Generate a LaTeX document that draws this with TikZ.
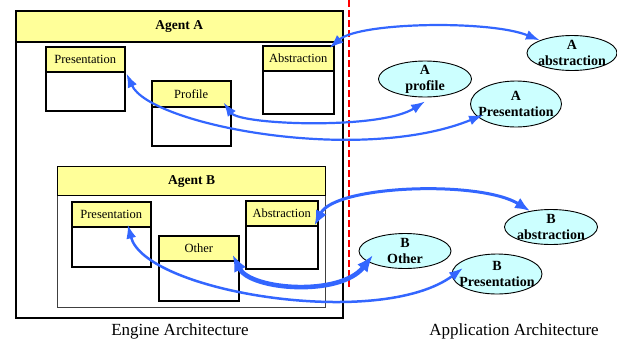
\documentclass[tikz,border=0pt]{standalone}
\usepackage{fontspec}
\setmainfont{Liberation Serif}
\usetikzlibrary{arrows.meta,shapes.geometric,calc}
\definecolor{hdryellow}{RGB}{255,255,153}
\definecolor{ellcyan}{RGB}{204,255,255}
\definecolor{linkblue}{RGB}{51,102,255}
\tikzset{
  panel/.style={draw=black, line width=1.6, fill=white, rectangle, inner sep=0, anchor=north west},
  subpanel/.style={draw=black!75, line width=1.3, fill=white, rectangle, inner sep=0, anchor=north west},
  titlebar/.style={draw=black, line width=1.6, fill=hdryellow, rectangle, inner sep=0, anchor=north west,
    font=\fontsize{13.5}{15}\selectfont\bfseries},
  partbox/.style={draw=black, line width=1.5, fill=white, rectangle, inner sep=0, anchor=north west},
  parthead/.style={draw=black, line width=1.5, fill=hdryellow, rectangle, inner sep=0, anchor=north west,
    font=\fontsize{12.5}{14}\selectfont},
  appnode/.style={draw=black, line width=0.9, fill=ellcyan, ellipse, inner sep=0},
  apptext/.style={font=\fontsize{14}{16}\selectfont\bfseries, align=center, inner sep=0},
  link/.style={draw=linkblue, line width=2.2,
    {Latex[length=14pt,width=10pt]}-{Latex[length=14pt,width=10pt]}},
  linkbold/.style={draw=linkblue, line width=3,
    {Latex[length=15pt,width=12pt]}-{Latex[length=15pt,width=12pt]}},
  linkheavy/.style={draw=linkblue, line width=4.6,
    {Latex[length=17pt,width=13pt]}-{Latex[length=17pt,width=13pt]}},
  caption/.style={font=\fontsize{17}{19}\selectfont, inner sep=0},
}
\begin{document}
\begin{tikzpicture}[x=1pt,y=-1pt]
\useasboundingbox (0,0) rectangle (617,343);

% boundary between engine and application side
\draw[red, line width=2, dash pattern=on 7pt off 3pt] (349,0) -- (349,287);

% Agent A container
\node[panel, minimum width=327, minimum height=307] (agentA) at (15,10) {};
\node[titlebar, minimum width=327, minimum height=31] (agentAH) at (15,10) {Agent A};

\node[partbox, minimum width=79, minimum height=64] (apres) at (45,46) {};
\node[parthead, minimum width=79, minimum height=25] (apresH) at (45,46) {Presentation};

\node[partbox, minimum width=79, minimum height=65] (prof) at (151,80) {};
\node[parthead, minimum width=79, minimum height=26] (profH) at (151,80) {Profile};

\node[partbox, minimum width=71, minimum height=68] (aabs) at (262,45) {};
\node[parthead, minimum width=71, minimum height=25] (aabsH) at (262,45) {Abstraction};

% Agent B container
\node[subpanel, minimum width=268, minimum height=141] (agentB) at (57,166) {};
\node[titlebar, line width=1.3, minimum width=268, minimum height=29] (agentBH) at (57,166) {Agent B};

\node[partbox, minimum width=79, minimum height=65] (bpres) at (71,201) {};
\node[parthead, minimum width=79, minimum height=25] (bpresH) at (71,201) {Presentation};

\node[partbox, minimum width=80, minimum height=65] (other) at (158,235) {};
\node[parthead, minimum width=80, minimum height=25] (otherH) at (158,235) {Other};

\node[partbox, minimum width=72, minimum height=68] (babs) at (245,200) {};
\node[parthead, minimum width=72, minimum height=25] (babsH) at (245,200) {Abstraction};

% application side components
\node[appnode, minimum width=90, minimum height=35, label={[apptext]center:A\\abstraction}] (aabsE) at (572,53) {};
\node[appnode, minimum width=93, minimum height=36, label={[apptext]center:A\\profile}] (aprofE) at (425,79) {};
\node[appnode, minimum width=91, minimum height=46, label={[apptext]center:A\\Presentation}] (apresE) at (516,104) {};
\node[appnode, minimum width=93, minimum height=35, label={[apptext]center:B\\abstraction}] (babsE) at (551,227) {};
\node[appnode, minimum width=92, minimum height=35, label={[apptext]center:B\\Other}] (botherE) at (405,251) {};
\node[appnode, minimum width=90, minimum height=40, label={[apptext]center:B\\Presentation}] (bpresE) at (497,274) {};

% links between engine parts and application parts
\draw[link] ($(aabsH.north east)+(-5,3)$) .. controls (360,22) and (490,20) .. (aabsE.north west);
\draw[link] ($(profH.south east)+(-8,-5)$) .. controls (240,125) and (380,130) .. ($(aprofE.south)+(0,4)$);
\draw[link] ($(apresH.south east)+(1,1)$) .. controls (150,125) and (360,165) .. ($(apresE.center)+(-33,11)$);
\draw[linkbold] ($(babsH.south east)+(-4,-1)$) .. controls (335,185) and (480,180) .. ($(babsE.center)+(-21,-16)$);
\draw[linkheavy] ($(otherH.south east)+(-7,-7)$) .. controls (250,290) and (340,297) .. ($(botherE.center)+(-32,4)$);
\draw[link, line width=2.5] ($(bpresH.south)+(16.5,-3)$) .. controls (145,292) and (380,330) .. ($(bpresE.center)+(-34,-6)$);

% captions
\node[caption] (engcap) at (180,331) {Engine Architecture};
\node[caption] (appcap) at (514,331) {Application Architecture};
\end{tikzpicture}
\end{document}
